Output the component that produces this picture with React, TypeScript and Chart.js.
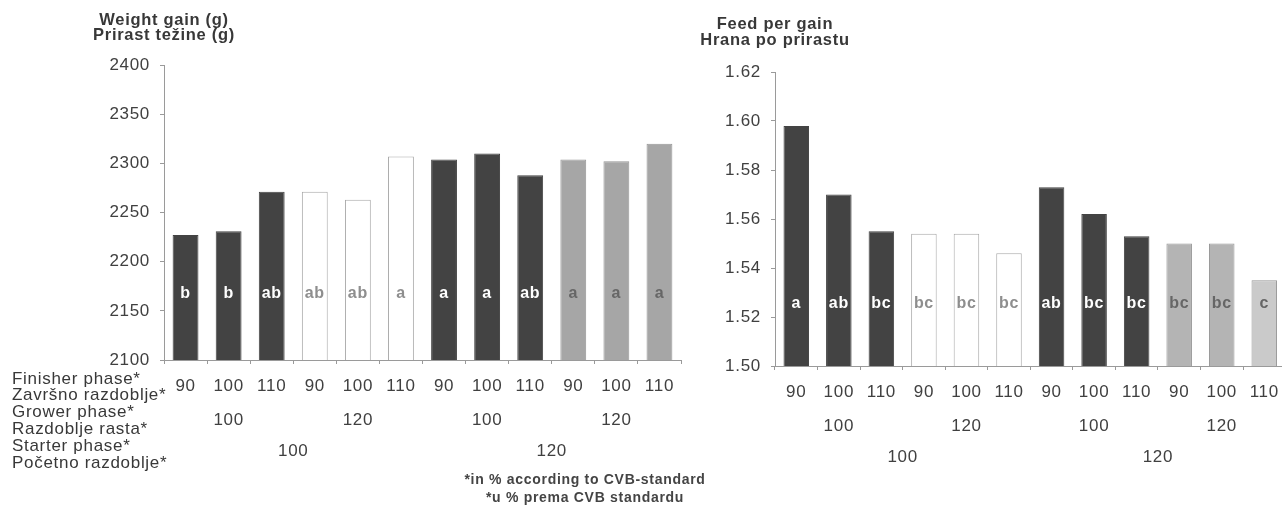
import React, { useEffect, useRef } from 'react';
import { Chart, registerables } from 'chart.js';

Chart.register(...registerables);

const FINISHER_LABELS = ['90', '100', '110', '90', '100', '110', '90', '100', '110', '90', '100', '110'];
const GROWER_LABELS = ['100', '120', '100', '120'];
const STARTER_LABELS = ['100', '120'];
const WEIGHT_GAIN = [2227, 2231, 2271, 2271, 2263, 2307, 2304, 2310, 2288, 2304, 2302, 2320];
const WEIGHT_LETTERS = ['b', 'b', 'ab', 'ab', 'ab', 'a', 'a', 'a', 'ab', 'a', 'a', 'a'];
const FEED_PER_GAIN = [1.598, 1.570, 1.555, 1.554, 1.554, 1.546, 1.573, 1.562, 1.553, 1.550, 1.550, 1.535];
const FEED_LETTERS = ['a', 'ab', 'bc', 'bc', 'bc', 'bc', 'ab', 'bc', 'bc', 'bc', 'bc', 'c'];
const ROW_LABELS = ['Finisher phase*', 'Završno razdoblje*', 'Grower phase*', 'Razdoblje rasta*', 'Starter phase*', 'Početno razdoblje*'];
const FOOTNOTE = ['*in % according to CVB-standard', '*u % prema CVB standardu'];
const WEIGHT_TITLE = ['Weight gain (g)', 'Prirast težine (g)'];
const FEED_TITLE = ['Feed per gain', 'Hrana po prirastu'];

const FONT = '"Liberation Sans", Arial, Helvetica, sans-serif';
const TEXT = '#383838';
const AXIS = '#9a9a9a';

type Cfg = {
  values: number[];
  letters: string[];
  letterValue: number;
  min: number;
  max: number;
  step: number;
  decimals: number;
  area: { left: number; right: number; top: number; bottom: number };
  width: number;
  height: number;
  title: string[];
  titleY: number[];
  grayFills: string[];
  rows: boolean;
  footnote: boolean;
};

function kindOf(i: number) {
  const g = Math.floor(i / 3);
  return g === 1 ? 'white' : g === 3 ? 'gray' : 'dark';
}

function makeChart(canvas: HTMLCanvasElement, cfg: Cfg) {
  const fills = cfg.values.map((_, i) => {
    const k = kindOf(i);
    return k === 'dark' ? '#434343' : k === 'white' ? '#ffffff' : cfg.grayFills[i % 3];
  });
  const borders = cfg.values.map((_, i) => {
    const k = kindOf(i);
    return k === 'dark' ? '#434343' : k === 'white' ? '#a8a8a8' : '#969696';
  });
  const letterColors = cfg.values.map((_, i) => {
    const k = kindOf(i);
    return k === 'dark' ? '#ffffff' : k === 'white' ? '#8e8e8e' : '#666666';
  });

  const extras = {
    id: 'extras',
    beforeDraw(chart: any) {
      chart.ctx.letterSpacing = '0.7px';
    },
    afterDatasetsDraw(chart: any) {
      const ctx = chart.ctx;
      const meta = chart.getDatasetMeta(0);
      const ys = chart.scales.y;
      ctx.save();
      ctx.font = `bold 16px ${FONT}`;
      ctx.textAlign = 'center';
      ctx.textBaseline = 'middle';
      const ly = ys.getPixelForValue(cfg.letterValue);
      cfg.letters.forEach((l, i) => {
        ctx.fillStyle = letterColors[i];
        ctx.fillText(l, meta.data[i].x, ly);
      });
      ctx.restore();
    },
    afterDraw(chart: any) {
      const ctx = chart.ctx;
      const xs = chart.scales.x;
      const area = chart.chartArea;
      ctx.save();
      ctx.fillStyle = TEXT;
      ctx.textBaseline = 'middle';
      // titles
      ctx.font = `bold 16.5px ${FONT}`;
      ctx.textAlign = 'center';
      cfg.title.forEach((t, i) => ctx.fillText(t, area.left, cfg.titleY[i]));
      // grower & starter rows
      ctx.font = `17px ${FONT}`;
      ctx.fillStyle = '#404040';
      GROWER_LABELS.forEach((t, i) => {
        ctx.fillText(t, xs.getPixelForValue(i * 3 + 1), area.bottom + 60);
      });
      STARTER_LABELS.forEach((t, i) => {
        ctx.fillText(t, xs.getPixelForValue(i * 6 + 2.5), area.bottom + 91);
      });
      if (cfg.rows) {
        ctx.textAlign = 'left';
        ctx.fillStyle = TEXT;
        ROW_LABELS.forEach((t, i) => ctx.fillText(t, 12, 379 + i * 16.8));
      }
      if (cfg.footnote) {
        ctx.textAlign = 'center';
        ctx.font = `bold 14px ${FONT}`;
        ctx.fillStyle = '#444444';
        FOOTNOTE.forEach((t, i) => ctx.fillText(t, 585, 480 + i * 18));
      }
      ctx.restore();
    },
  };

  return new Chart(canvas, {
    type: 'bar',
    data: {
      labels: FINISHER_LABELS,
      datasets: [
        {
          data: cfg.values,
          backgroundColor: fills,
          borderColor: borders,
          borderWidth: 1,
          barPercentage: 0.6,
          categoryPercentage: 1,
        },
      ],
    },
    options: {
      responsive: false,
      animation: false,
      events: [],
      layout: { padding: { left: 0, bottom: 0, top: cfg.area.top, right: cfg.width - cfg.area.right } },
      plugins: { legend: { display: false }, tooltip: { enabled: false }, title: { display: false } },
      scales: {
        x: {
          afterFit: (s: any) => {
            s.height = cfg.height - cfg.area.bottom;
          },
          grid: { display: true, drawOnChartArea: false, drawTicks: true, tickLength: 4, color: AXIS, offset: true },
          border: { display: true, color: AXIS, dash: [2, 2] },
          ticks: {
            autoSkip: false,
            maxRotation: 0,
            minRotation: 0,
            padding: 12,
            color: '#404040',
            font: { family: FONT, size: 17 },
          },
        },
        y: {
          min: cfg.min,
          max: cfg.max,
          afterFit: (s: any) => {
            s.width = cfg.area.left;
          },
          grid: { display: true, drawOnChartArea: false, drawTicks: true, tickLength: 4, color: AXIS },
          border: { display: true, color: AXIS, dash: [2, 2] },
          ticks: {
            stepSize: cfg.step,
            padding: 10,
            color: '#404040',
            font: { family: FONT, size: 17 },
            callback: (v: any) => Number(v).toFixed(cfg.decimals),
          },
        },
      },
    },
    plugins: [extras],
  });
}

export default function App() {
  const leftRef = useRef<HTMLCanvasElement>(null);
  const rightRef = useRef<HTMLCanvasElement>(null);

  useEffect(() => {
    const left = makeChart(leftRef.current!, {
      values: WEIGHT_GAIN,
      letters: WEIGHT_LETTERS,
      letterValue: 2168,
      min: 2100,
      max: 2400,
      step: 50,
      decimals: 0,
      area: { left: 164, right: 681, top: 65, bottom: 360 },
      width: 720,
      height: 506,
      title: WEIGHT_TITLE,
      titleY: [20, 35],
      grayFills: ['#a6a6a6', '#a6a6a6', '#a6a6a6'],
      rows: true,
      footnote: true,
    });
    const right = makeChart(rightRef.current!, {
      values: FEED_PER_GAIN,
      letters: FEED_LETTERS,
      letterValue: 1.5255,
      min: 1.5,
      max: 1.62,
      step: 0.02,
      decimals: 2,
      area: { left: 75, right: 586, top: 72, bottom: 366 },
      width: 590,
      height: 506,
      title: FEED_TITLE,
      titleY: [24, 40],
      grayFills: ['#b4b4b4', '#b4b4b4', '#cacaca'],
      rows: false,
      footnote: false,
    });
    return () => {
      left.destroy();
      right.destroy();
    };
  }, []);

  return (
    <div
      style={{
        position: 'absolute',
        left: 0,
        top: 0,
        width: 1282,
        height: 506,
        overflow: 'hidden',
        background: '#ffffff',
      }}
    >
      <canvas
        ref={leftRef}
        width={720}
        height={506}
        style={{ position: 'absolute', left: 0, top: 0, width: 720, height: 506 }}
      />
      <canvas
        ref={rightRef}
        width={590}
        height={506}
        style={{ position: 'absolute', left: 700, top: 0, width: 590, height: 506 }}
      />
    </div>
  );
}
